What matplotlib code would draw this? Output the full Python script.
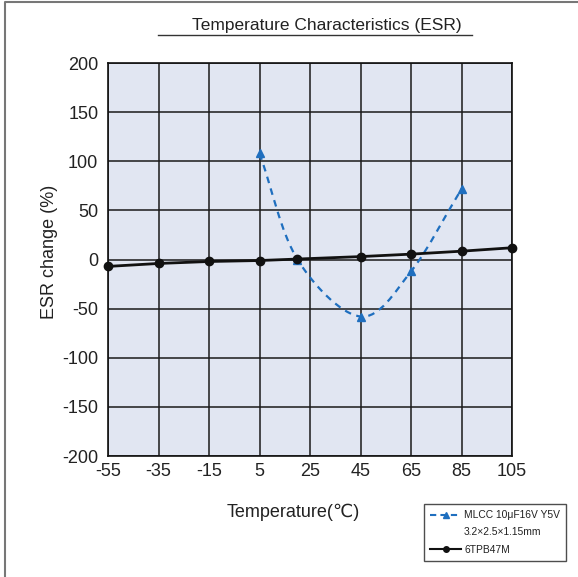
import matplotlib
matplotlib.use('Agg')
import matplotlib.pyplot as plt
import numpy as np
from matplotlib.path import Path
from matplotlib.patches import PathPatch
from matplotlib.lines import Line2D

plt.rcParams['font.family'] = ['Liberation Sans', 'DejaVu Sans']
plt.rcParams['axes.unicode_minus'] = False

# data
temps_tpb = [-55, -35, -15, 5, 20, 45, 65, 85, 105]
esr_tpb = [-7, -4, -2, -1, 0.5, 3, 5.5, 8.5, 12]
temps_mlcc = [5, 20, 45, 65, 85]
esr_mlcc = [108, 0, -58, -12, 72]
xticks = [-55, -35, -15, 5, 25, 45, 65, 85, 105]
yticks = [-200, -150, -100, -50, 0, 50, 100, 150, 200]

txt = '#222222'
blue = '#1f6fbf'


def smooth_path(xs, ys):
    # Catmull-Rom through the points, written as cubic bezier segments
    pts = np.column_stack([xs, ys]).astype(float)
    p = np.vstack([pts[0] - (pts[1] - pts[0]), pts, pts[-1] + (pts[-1] - pts[-2])])
    verts = [tuple(pts[0])]
    codes = [Path.MOVETO]
    for i in range(1, len(p) - 2):
        c1 = p[i] + (p[i + 1] - p[i - 1]) / 6.0
        c2 = p[i + 1] - (p[i + 2] - p[i]) / 6.0
        verts += [tuple(c1), tuple(c2), tuple(p[i + 1])]
        codes += [Path.CURVE4] * 3
    return Path(verts, codes)


fig = plt.figure(figsize=(5.78, 5.77), dpi=100)
ax = fig.add_axes([0.187, 0.2097, 0.699, 0.681])
ax.set_facecolor('#e1e6f2')

ax.set_xlim(-55, 105)
ax.set_ylim(-200, 200)
ax.set_xticks(xticks)
ax.set_yticks(yticks)
ax.tick_params(length=0, labelsize=13, labelcolor=txt)
ax.tick_params(axis='x', pad=5)
ax.tick_params(axis='y', pad=7)
ax.grid(True, color='#1a1a1a', linewidth=1.1)
for s in ax.spines.values():
    s.set_color('#111111')
    s.set_linewidth(1.2)

# MLCC curve
ax.add_patch(PathPatch(smooth_path(temps_mlcc, esr_mlcc), fill=False,
                       edgecolor=blue, linestyle=(0, (3, 2.5)), linewidth=1.6, zorder=3))
ax.plot(temps_mlcc, esr_mlcc, linestyle='none', marker='^', color=blue,
        markersize=6, zorder=4, clip_on=False)

# 6TPB47M
ax.plot(temps_tpb, esr_tpb, color='#111111', linewidth=2, marker='o',
        markersize=6, zorder=5, clip_on=False)

ax.set_xlabel('Temperature(\u2103)', fontsize=13, color=txt)
ax.xaxis.set_label_coords(0.458, -0.12)
ax.set_ylabel('ESR change (%)', fontsize=13, color=txt)
ax.yaxis.set_label_coords(-0.124, 0.52)

# title with underline
fig.text(0.565, 0.955, 'Temperature Characteristics (ESR)', ha='center', va='center',
         fontsize=12.5, color=txt)
fig.add_artist(Line2D([158 / 578, 472 / 578], [1 - 35 / 577, 1 - 35 / 577],
                      color='#333333', linewidth=1.0))

# outer frame (left and top edges)
fig.add_artist(Line2D([4.5 / 578, 4.5 / 578, 1], [0, 1 - 1.5 / 577, 1 - 1.5 / 577],
                      color='#777777', linewidth=1.5))

h1 = Line2D([], [], color=blue, linestyle=(0, (3, 2)), linewidth=1.5, marker='^', markersize=5)
h_blank = Line2D([], [], linestyle='none')
h2 = Line2D([], [], color='#111111', linewidth=1.5, marker='o', markersize=4)
leg = fig.legend([h1, h_blank, h2],
                 ['MLCC 10\u03bcF16V Y5V', '3.2\u00d72.5\u00d71.15mm', '6TPB47M'],
                 loc='upper left', bbox_to_anchor=(424 / 578, 1 - 504 / 577),
                 prop={'size': 7.4},
                 frameon=True, fancybox=False, edgecolor='#222222',
                 handlelength=3.0, handletextpad=0.3, borderpad=0.6, labelspacing=0.7,
                 borderaxespad=0)
leg.get_frame().set_linewidth(1.0)
for t in leg.get_texts():
    t.set_color(txt)

fig.savefig('out.png', dpi=100)
